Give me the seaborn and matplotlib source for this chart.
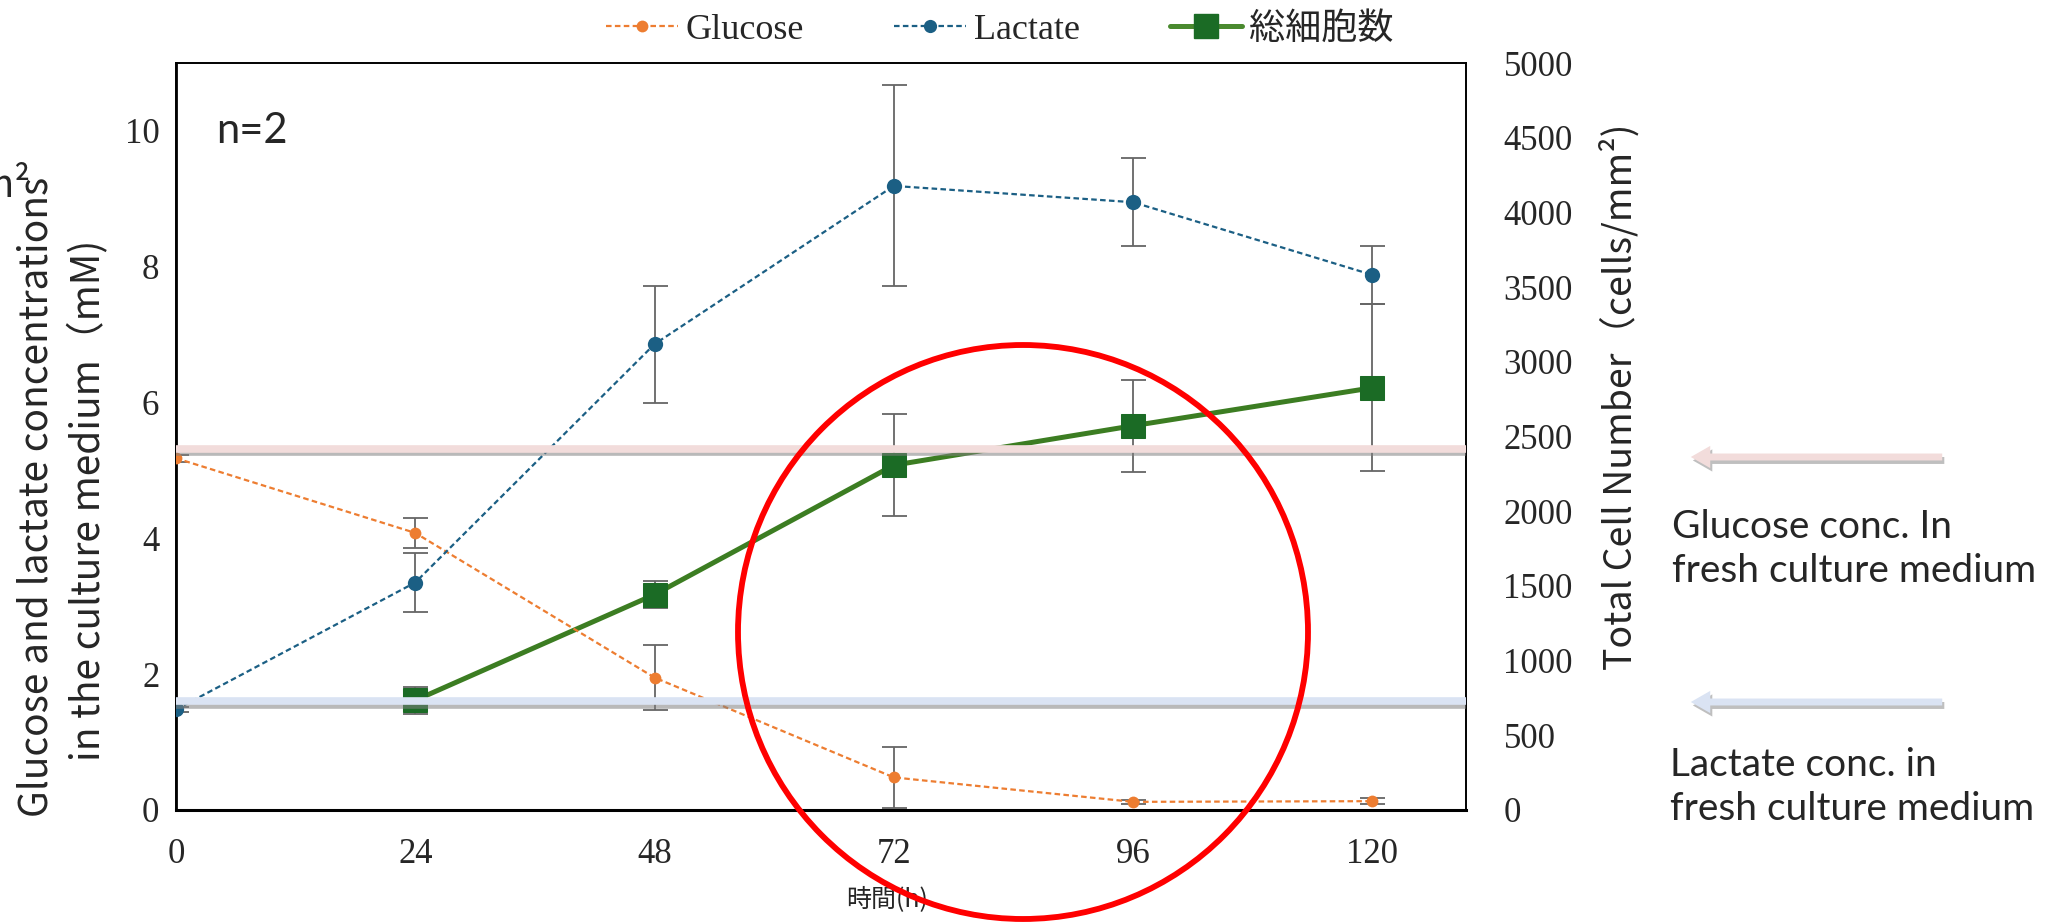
import numpy as np
import matplotlib
matplotlib.use("Agg")
import matplotlib.pyplot as plt
import matplotlib.patheffects as pe
from matplotlib.lines import Line2D
from matplotlib.patches import Ellipse, FancyArrowPatch
import seaborn as sns

# --- data ---
hours = [0, 24, 48, 72, 96, 120]
glucose = [5.18, 4.08, 1.95, 0.48, 0.12, 0.13]
glucose_err = [0.05, 0.22, 0.48, 0.45, 0.03, 0.04]
lactate = [1.48, 3.35, 6.86, 9.19, 8.95, 7.88]
lactate_err = [0.03, 0.43, 0.86, 1.48, 0.65, 0.43]
cell_hours = [24, 48, 72, 96, 120]
cells = [734, 1442, 2308, 2572, 2826]
cells_err = [90, 90, 340, 307, 560]
glucose_fresh = 5.32
lactate_fresh = 1.60

x_ticks = [0, 24, 48, 72, 96, 120]
left_ticks = [0, 2, 4, 6, 8, 10]
right_ticks = list(range(0, 5001, 500))

c_glu = "#ED7D31"
c_lac = "#1B5F84"
c_line_green = "#3C7D22"
c_mark_green = "#1B6B25"
c_err = "#666666"

sns.set_style("white")
serif = ["Liberation Serif", "Noto Sans CJK JP"]
narrow = ["Liberation Sans Narrow", "Noto Sans CJK JP"]
W, H = 2049, 923

def fx(px):
    return px / W

def fy(py):
    return 1 - py / H

fig = plt.figure(figsize=(20.49, 9.23), dpi=100)
ax = fig.add_axes([fx(176), fy(810), fx(1466 - 176), (810 - 63) / H])
ax2 = ax.twinx()
ax.set_zorder(ax2.get_zorder() + 1)
ax.patch.set_visible(False)

# cell number on the right axis
ax2.errorbar(cell_hours, cells, yerr=cells_err, fmt="none", ecolor=c_err,
             elinewidth=1.3, capsize=9, capthick=1.3, zorder=2)
sns.lineplot(x=cell_hours, y=cells, ax=ax2, color=c_line_green, linewidth=3.6,
             marker="s", markersize=17, markerfacecolor=c_mark_green,
             markeredgecolor=c_mark_green, zorder=3)

# concentrations on the left axis
ax.errorbar(hours, glucose, yerr=glucose_err, fmt="none", ecolor=c_err,
            elinewidth=1.3, capsize=9, capthick=1.3, zorder=2)
ax.errorbar(hours, lactate, yerr=lactate_err, fmt="none", ecolor=c_err,
            elinewidth=1.3, capsize=9, capthick=1.3, zorder=2)
sns.lineplot(x=hours, y=glucose, ax=ax, color=c_glu, linewidth=1.6,
             linestyle=(0, (2.5, 1.5)), marker="o", markersize=8.5,
             markeredgewidth=0, zorder=3)
sns.lineplot(x=hours, y=lactate, ax=ax, color=c_lac, linewidth=1.6,
             linestyle=(0, (2.5, 1.5)), marker="o", markersize=11,
             markeredgewidth=0, zorder=3)

# fresh medium reference bands (drawn on top)
shadow = [pe.SimpleLineShadow(offset=(0, -2.5), shadow_color="gray", alpha=0.55), pe.Normal()]
ax.axhline(glucose_fresh, color="#F2DCDB", linewidth=5.5, zorder=10,
           path_effects=shadow, solid_capstyle="butt")
ax.axhline(lactate_fresh, color="#DAE3F3", linewidth=5.5, zorder=10,
           path_effects=shadow, solid_capstyle="butt")

ax.set_xlim(0, 129.4)
ax.set_ylim(0, 11)
ax2.set_ylim(0, 5000)
ax.set_xticks(x_ticks)
ax.set_yticks(left_ticks)
ax2.set_yticks(right_ticks)
ax.tick_params(axis="x", length=0, pad=20)
ax.tick_params(axis="y", length=0, pad=12)
ax2.tick_params(axis="y", length=0, pad=27)
for lab in ax.get_xticklabels() + ax.get_yticklabels() + ax2.get_yticklabels():
    lab.set_fontfamily(serif)
    lab.set_fontsize(25)
ax.set_xlabel("")
ax.set_ylabel("")
ax2.set_ylabel("")
for a in (ax, ax2):
    for s in a.spines.values():
        s.set_color("black")
        s.set_linewidth(1.2)
ax.spines["left"].set_linewidth(2)
ax.spines["bottom"].set_linewidth(2.2)

ax.text(0.031, 0.935, "n=2", transform=ax.transAxes, fontsize=30,
        family=["Lato", "DejaVu Sans"], va="top", ha="left")

# axis titles
fig.text(fx(37), fy(497), "Glucose and lactate concentrations", rotation=90,
         ha="center", va="center", fontsize=28, family=narrow)
fig.text(fx(89), fy(500), "in the culture medium（mM)", rotation=90,
         ha="center", va="center", fontsize=28, family=narrow)
fig.text(fx(30), fy(196), "cells/mm²", ha="right", va="baseline",
         fontsize=28, family=narrow)
fig.text(fx(1620), fy(397), "Total Cell Number（cells/mm²)", rotation=90,
         ha="center", va="center", fontsize=27, family=narrow)
fig.text(fx(887), fy(899), "時間(h)", ha="center", va="center",
         fontsize=18, family=["Noto Sans CJK JP", "DejaVu Sans"])

# legend
handles = [
    Line2D([], [], color=c_glu, linewidth=1.6, linestyle=(0, (2.5, 1.5)),
           marker="o", markersize=8.5, markeredgewidth=0),
    Line2D([], [], color=c_lac, linewidth=1.6, linestyle=(0, (2.5, 1.5)),
           marker="o", markersize=9.5, markeredgewidth=0),
    Line2D([], [], color="#4A8A2F", linewidth=3.6, marker="s", markersize=17,
           markerfacecolor=c_mark_green, markeredgecolor=c_mark_green),
]
fig.legend(handles, ["Glucose", "Lactate", "総細胞数"], loc="center",
           bbox_to_anchor=(fx(1000), fy(30)), ncol=3, frameon=False,
           prop={"family": serif, "size": 26}, handlelength=2.0,
           handletextpad=0.2, columnspacing=2.5)

# right-hand annotations with arrows
arrow_shadow = [pe.SimplePatchShadow(offset=(1.5, -2.5), shadow_rgbFace="gray", alpha=0.5), pe.Normal()]
for ypix, col in [(457, "#F2DCDB"), (702, "#DAE3F3")]:
    arr = FancyArrowPatch((fx(1945), fy(ypix)), (fx(1688), fy(ypix)),
                          transform=fig.transFigure,
                          arrowstyle="simple,head_length=1.4,head_width=1.6,tail_width=0.5",
                          mutation_scale=10, color=col, linewidth=0,
                          path_effects=arrow_shadow)
    fig.add_artist(arr)
fig.text(fx(1672), fy(549), "Glucose conc. In\nfresh culture medium", ha="left",
         va="center", fontsize=28, family=["Lato", "DejaVu Sans"], linespacing=1.3)
fig.text(fx(1670), fy(787), "Lactate conc. in\nfresh culture medium", ha="left",
         va="center", fontsize=28, family=["Lato", "DejaVu Sans"], linespacing=1.3)

# red circle highlight
fig.add_artist(Ellipse((fx(1023), fy(632)), fx(570), 574 / H, fill=False,
                       edgecolor="#FF0000", linewidth=4.2,
                       transform=fig.transFigure, zorder=20))

fig.savefig("out.png", dpi=100)
